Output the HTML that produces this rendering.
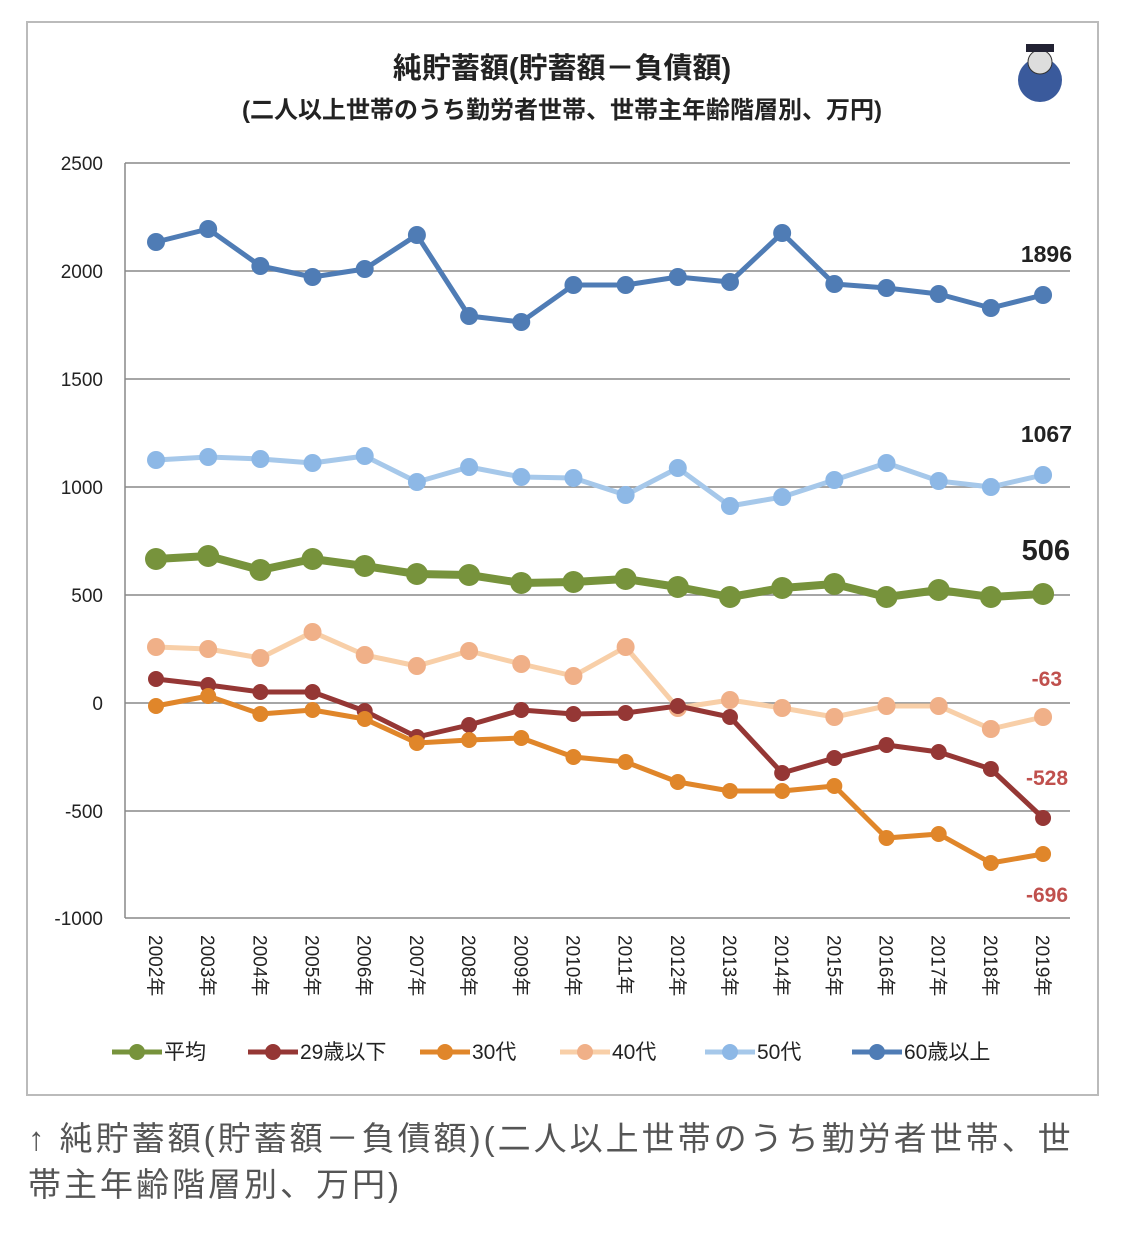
<!DOCTYPE html>
<html><head><meta charset="utf-8">
<style>
body{margin:0;background:#fff;width:1125px;height:1247px;overflow:hidden;font-family:"Liberation Sans","Noto Sans CJK JP",sans-serif;}
.cap{position:absolute;left:28px;top:1116px;width:1090px;font-size:33px;letter-spacing:3px;line-height:46px;color:#555;white-space:nowrap;}
</style></head><body>
<svg width="1125" height="1247" style="position:absolute;left:0;top:0" font-family="Liberation Sans,Noto Sans CJK JP,sans-serif">
<rect x="27" y="22" width="1071" height="1073" fill="#fff" stroke="#bbb" stroke-width="2"/>
<text x="562" y="78" font-size="29" font-weight="bold" text-anchor="middle" fill="#222">純貯蓄額(貯蓄額－負債額)</text>
<text x="562" y="118" font-size="24" font-weight="bold" text-anchor="middle" fill="#222">(二人以上世帯のうち勤労者世帯、世帯主年齢階層別、万円)</text>
<g transform="translate(1040,80)">
<circle cx="0" cy="0" r="22" fill="#3a5a9c"/><circle cx="0" cy="-18" r="12" fill="#ddd" stroke="#333"/><rect x="-14" y="-36" width="28" height="8" fill="#223"/>
</g>
<g stroke="#888" stroke-width="1.5">
<line x1="125" y1="163" x2="1070" y2="163"/><line x1="125" y1="271" x2="1070" y2="271"/><line x1="125" y1="379" x2="1070" y2="379"/><line x1="125" y1="487" x2="1070" y2="487"/><line x1="125" y1="595" x2="1070" y2="595"/><line x1="125" y1="703" x2="1070" y2="703"/><line x1="125" y1="811" x2="1070" y2="811"/><line x1="125" y1="918" x2="1070" y2="918"/>
<line x1="125" y1="163" x2="125" y2="918"/>
</g>
<g font-size="19" fill="#222" text-anchor="end">
<text x="103" y="170">2500</text><text x="103" y="278">2000</text><text x="103" y="386">1500</text><text x="103" y="494">1000</text><text x="103" y="602">500</text><text x="103" y="710">0</text><text x="103" y="818">-500</text><text x="103" y="925">-1000</text>
</g>
<g font-size="19" fill="#222" id="xl"></g>
<g id="series"></g>
<g font-weight="bold" text-anchor="end">
<text x="1072" y="262" font-size="23" fill="#222">1896</text>
<text x="1072" y="442" font-size="23" fill="#222">1067</text>
<text x="1070" y="560" font-size="29" fill="#222">506</text>
<text x="1062" y="686" font-size="21" fill="#c0504d">-63</text>
<text x="1068" y="785" font-size="21" fill="#c0504d">-528</text>
<text x="1068" y="902" font-size="21" fill="#c0504d">-696</text>
</g>
<g font-size="21" fill="#222" id="leg"></g>
</svg>
<div class="cap">↑ 純貯蓄額(貯蓄額－負債額)(二人以上世帯のうち勤労者世帯、世<br>帯主年齢階層別、万円)</div>
<script>
var ns="http://www.w3.org/2000/svg";
function el(t,a,p){var e=document.createElementNS(ns,t);for(var k in a)e.setAttribute(k,a[k]);p.appendChild(e);return e;}
var X=function(i){return 156+i*52.18;};
var xl=document.getElementById('xl');
for(var i=0;i<18;i++){var t=el('text',{transform:'translate('+(X(i)-7)+',935) rotate(90)'},xl);t.textContent=(2002+i)+'年';}
var S=[
['#4f7cb5','#4f7cb5',[242,229,266,277,269,235,316,322,285,285,277,282,233,284,288,294,308,295],5,9],
['#a6c8ea','#8db8e6',[460,457,459,463,456,482,467,477,478,495,468,506,497,480,463,481,487,475],5,9],
['#77933c','#77933c',[559,556,570,559,566,574,575,583,582,579,587,597,588,584,597,590,597,594],8,11],
['#f8cfa8','#f0b088',[647,649,658,632,655,666,651,664,676,647,708,700,708,717,706,706,729,717],5,9],
['#953735','#953735',[679,685,692,692,711,737,725,710,714,713,706,717,773,758,745,752,769,818],5,8],
['#e0862a','#e0862a',[706,696,714,710,719,743,740,738,757,762,782,791,791,786,838,834,863,854],5,8]];
var g=document.getElementById('series');
S.forEach(function(s){var pts=s[2].map(function(y,i){return X(i)+','+y;}).join(' ');
el('polyline',{points:pts,fill:'none',stroke:s[0],'stroke-width':s[3],'stroke-linejoin':'round'},g);
s[2].forEach(function(y,i){el('circle',{cx:X(i),cy:y,r:s[4],fill:s[1]},g);});});
var leg=document.getElementById('leg');
var L=[['平均',112],['29歳以下',248],['30代',420],['40代',560],['50代',705],['60歳以上',852]];
L.forEach(function(l,i){var s=S[[2,4,5,3,1,0][i]];el('line',{x1:l[1],y1:1052,x2:l[1]+50,y2:1052,stroke:s[0],'stroke-width':5},leg);
el('circle',{cx:l[1]+25,cy:1052,r:8,fill:s[1]},leg);var t=el('text',{x:l[1]+52,y:1059},leg);t.textContent=l[0];});
</script>
</body></html>
